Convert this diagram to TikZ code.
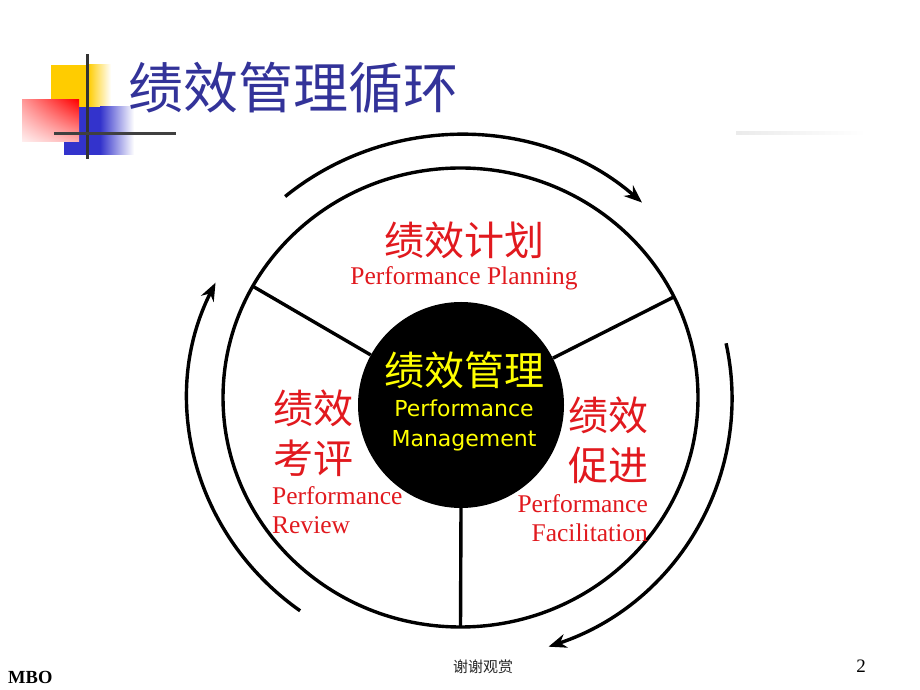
\documentclass[tikz,border=0pt]{standalone}
\usepackage{fontspec}
\setmainfont{Liberation Serif}
\newfontfamily\cjk{Noto Sans CJK SC}
\newfontfamily\tahoma{DejaVu Sans}
\usetikzlibrary{arrows.meta,shadings}
\definecolor{titleblue}{RGB}{51,51,153}
\definecolor{labelred}{RGB}{225,25,30}
\definecolor{pmyellow}{RGB}{255,255,0}
\definecolor{logoblue}{RGB}{51,51,204}
\definecolor{logoyellow}{RGB}{255,204,0}
\tikzset{
  ring/.style={line width=3.4pt},
  cyclearc/.style={line width=3.4pt,-{Stealth[length=18pt,width=14pt]}},
  redcjk/.style={text=labelred,inner sep=0pt,align=center,
    font=\cjk\fontsize{40}{50}\selectfont},
  redeng/.style={text=labelred,inner sep=0pt,
    font=\fontsize{25.5}{29}\selectfont},
}
\begin{document}
\begin{tikzpicture}[x=1pt,y=1pt]
  \useasboundingbox (0,0) rectangle (920,690);
  \fill [white] (0,0) rectangle (920,690);

  % logo
  \fill [logoyellow] (51,583) rectangle (89,625);
  \shade [left color=logoyellow,right color=white] (88,583) rectangle (111,625);
  \fill [logoblue] (64,535) rectangle (101,583);
  \shade [left color=logoblue,right color=white] (100,535) rectangle (134,583);
  \shade [upper left=red!40,upper right=red,lower left=red!6,lower right=red!30]
    (22,548) rectangle (79,590);
  \draw [line width=3pt,black!80] (87,531) -- (87,636);
  \draw [line width=3pt,black!75] (54,556) -- (176,556);
  \shade [left color=black!8,right color=white] (736,555) rectangle (866,558);

  % title
  \node (title) [text=titleblue,font=\cjk\fontsize{55}{55}\selectfont] at (293,602) {绩效管理循环};

  % outline
  \coordinate (c) at (460.5,292.5);
  \draw [ring] (c) ellipse [x radius=237.5pt,y radius=229.5pt];
  \coordinate (sl) at ([shift={(151:237.5 and 229.5)}]c);
  \coordinate (sr) at ([shift={(26:237.5 and 229.5)}]c);
  \coordinate (sb) at ([shift={(-90:237.5 and 229.5)}]c);

  \node (pm) [circle,fill=black,minimum size=206pt,inner sep=0pt] at (461,285) {};
  \draw [ring] (pm.151) -- (sl);
  \draw [ring] (pm.27) -- (sr);
  \draw [ring] (pm.south) -- (sb);

  % cycle arrows
  \coordinate (ac) at (460,292);
  \draw [cyclearc] ([shift={(130:272 and 263)}]ac)
    arc [start angle=130,end angle=48,x radius=272pt,y radius=263pt];
  \draw [cyclearc] ([shift={(12:272 and 263)}]ac)
    arc [start angle=12,end angle=-71,x radius=272pt,y radius=263pt];
  \draw [cyclearc] ([shift={(234:272 and 263)}]ac)
    arc [start angle=234,end angle=154,x radius=272pt,y radius=263pt];

  % centre
  \node (pmcn) [text=pmyellow,inner sep=0pt,font=\cjk\fontsize{40}{40}\selectfont] at (464,320) {绩效管理};
  \node (pmen) [text=pmyellow,inner sep=0pt,align=center,font=\tahoma\fontsize{22}{30}\selectfont] at (464,265) {Performance\\Management};

  % planning
  \node (plcn) [redcjk] at (464,450) {绩效计划};
  \node (plen) [redeng] at (464,412) {Performance Planning};

  % review
  \node (rvcn) [redcjk] at (313,257) {绩效\\考评};
  \node (rven) [redeng,align=left,anchor=west] at (272,180) {Performance\\Review};

  % facilitation
  \node (fccn) [redcjk] at (608,250) {绩效\\促进};
  \node (fcen) [redeng,align=right,anchor=east] at (648,172) {Performance\\Facilitation};

  % footer
  \node (mbo) [anchor=west,inner sep=0pt,font=\bfseries\fontsize{18.5}{18.5}\selectfont] at (8,13) {MBO};
  \node (thanks) [inner sep=0pt,text=black!85,font=\cjk\fontsize{15}{15}\selectfont] at (483,23) {谢谢观赏};
  \node (page) [inner sep=0pt,font=\fontsize{19}{19}\selectfont] at (861,24) {2};
\end{tikzpicture}
\end{document}
